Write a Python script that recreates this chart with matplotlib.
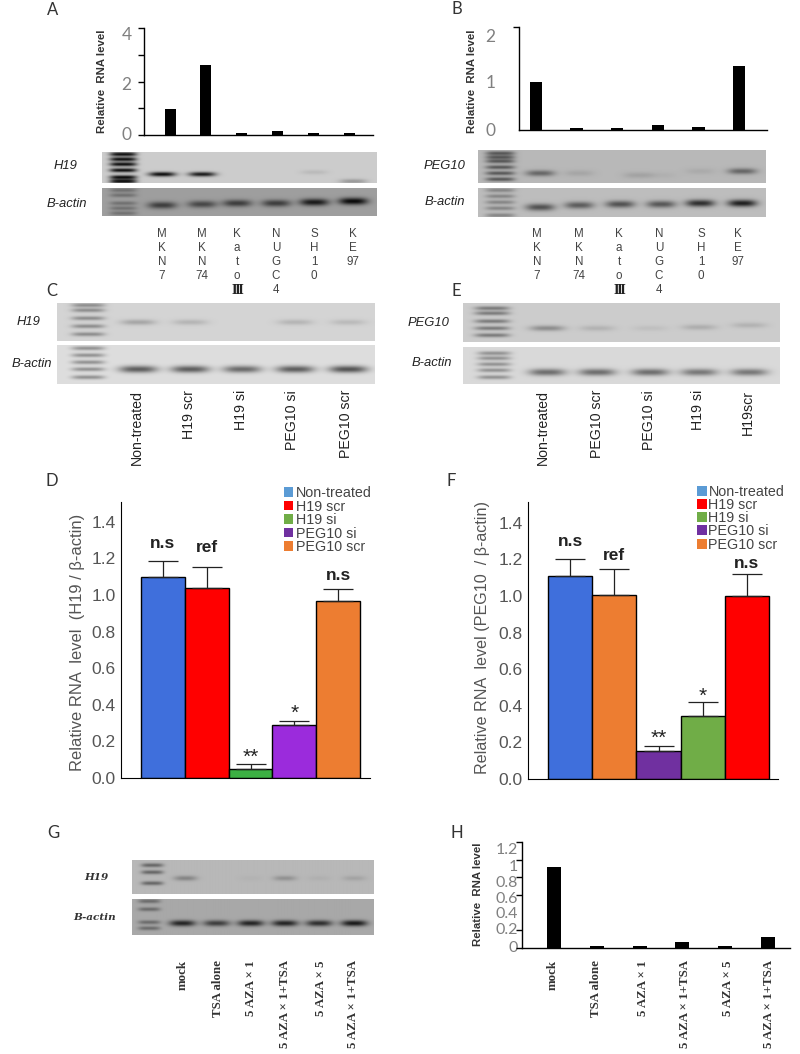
import numpy as np
import matplotlib
matplotlib.use("Agg")
import matplotlib.pyplot as plt
from matplotlib.patches import Patch

W, H = 800, 1054
plt.rcParams['font.family'] = ['Liberation Sans', 'DejaVu Sans']

# bar chart data
cell_lines = [["M", "K", "N", "7"], ["M", "K", "N", "74"], ["K", "a", "t", "o", "Ⅲ"],
              ["N", "U", "G", "C", "4"], ["S", "H", "1", "0"], ["K", "E", "97"]]
h19_levels = [0.97, 2.6, 0.07, 0.14, 0.07, 0.07]
peg10_levels = [1.0, 0.04, 0.04, 0.1, 0.07, 1.33]

d_labels = ["Non-treated", "H19 scr", "H19 si", "PEG10 si", "PEG10 scr"]
d_values = [1.10, 1.04, 0.05, 0.29, 0.965]
d_errors = [0.087, 0.115, 0.027, 0.02, 0.068]
d_marks = ["n.s", "ref", "**", "*", "n.s"]

e_labels = ["Non-treated", "PEG10 scr", "PEG10 si", "H19 si", "H19scr"]
f_values = [1.11, 1.007, 0.153, 0.342, 1.0]
f_errors = [0.094, 0.139, 0.027, 0.078, 0.12]
f_marks = ["n.s", "ref", "**", "*", "n.s"]
legend_labels = ["Non-treated", "H19 scr", "H19 si", "PEG10 si", "PEG10 scr"]

treatments = ["mock", "TSA alone", "5 AZA × 1", "5 AZA × 1+TSA", "5 AZA × 5", "5 AZA × 1+TSA"]
h_values = [0.917, 0.02, 0.02, 0.07, 0.02, 0.125]

# gel band strengths, per lane
gel_a_h19 = [0.75, 0.7, 0.0, 0.0, 0.07, 0.2]
gel_a_actin = [0.38, 0.34, 0.38, 0.38, 0.52, 0.58]
gel_b_peg = [0.32, 0.07, 0.08, 0.03, 0.05, 0.32]
gel_b_actin = [0.42, 0.38, 0.42, 0.4, 0.56, 0.62]
gel_c_h19 = [0.18, 0.12, 0.0, 0.12, 0.1]
gel_c_actin = [0.5, 0.5, 0.45, 0.5, 0.54]
gel_e_peg = [0.25, 0.1, 0.05, 0.12, 0.1]
gel_e_actin = [0.42, 0.42, 0.42, 0.38, 0.38]
gel_g_h19 = [0.2, 0.0, 0.02, 0.15, 0.03, 0.08]
gel_g_actin = [0.52, 0.42, 0.52, 0.52, 0.48, 0.56]

fig = plt.figure(figsize=(W / 100, H / 100), dpi=100)


def px_axes(l, t, r, b):
    return fig.add_axes([l / W, 1 - b / H, (r - l) / W, (b - t) / H])


def px_text(x, y, s, **kw):
    kw.setdefault("ha", "center")
    kw.setdefault("va", "center")
    return fig.text(x / W, 1 - y / H, s, **kw)


def gel(box, bg, lane_x, lane_y, strength, band_w, band_h, ladder_x, ladder_w, rungs, rung_strength):
    l, t, r, b = box
    xx, yy = np.meshgrid(np.arange(l, r, 0.5), np.arange(t, b, 0.5))
    img = np.full(xx.shape, bg, dtype=float)
    for x0, y0, s in zip(lane_x, lane_y, strength):
        img -= s * np.exp(-(np.abs(xx - x0) / (band_w / 2)) ** 3) * np.exp(-((yy - y0) / (band_h / 2)) ** 2)
    for y0 in rungs:
        img -= rung_strength * np.exp(-(np.abs(xx - ladder_x) / (ladder_w / 2)) ** 4) * np.exp(-((yy - y0) / 2.0) ** 2)
    ax = px_axes(l, t, r, b)
    ax.imshow(np.clip(img, 0, 1), cmap="gray", vmin=0, vmax=1, aspect="auto", interpolation="bilinear")
    ax.axis("off")


def small_bars(box, first, step, values, width, ytop, marks, label_pos, labels, ylab_x, ylab_y, pad, size=12.5):
    l, t, r, b = box
    ax = px_axes(l, t, r, b)
    ax.bar(range(len(values)), values, width=width / step, color="black")
    ax.set_xlim(-(first - l) / step, (r - first) / step)
    ax.set_ylim(0, ytop)
    for s in ["top", "right"]:
        ax.spines[s].set_visible(False)
    ax.spines["left"].set_linewidth(1.0)
    ax.spines["bottom"].set_linewidth(1.0)
    ax.set_xticks([])
    ax.set_yticks(label_pos, labels)
    ax.set_yticks(marks, minor=True)
    ax.tick_params(axis="y", which="major", length=0, pad=pad, labelsize=size, labelcolor="#808080")
    ax.tick_params(axis="y", which="minor", length=4, width=1.0)
    for lab in ax.get_yticklabels():
        lab.set_family(["Lato", "DejaVu Sans"])
    px_text(ylab_x, ylab_y, "Relative  RNA level", rotation=90, fontsize=8.2, fontweight="bold", color="#333333")
    ax.patch.set_alpha(0)
    return ax


def big_bars(box, edges, values, errors, colors, marks, mark_y, ylabel, ylab_x, ylab_y, ylab_size):
    l, t, r, b = box
    ax = px_axes(l, t, r, b)
    step = (edges[1] - edges[0]) / 5
    x = np.arange(len(values))
    ax.bar(x, values, width=1, color=colors, edgecolor="black", linewidth=1.0)
    ax.errorbar(x, values, yerr=[np.zeros(len(x)), errors], fmt="none", ecolor="#222222",
                elinewidth=0.9, capsize=10.5, capthick=0.9, zorder=1)
    ax.set_xlim(-0.5 - (edges[0] - l) / step, len(x) - 0.5 + (r - edges[1]) / step)
    ax.set_ylim(0, (b - t) / 183)
    for s in ["top", "right"]:
        ax.spines[s].set_visible(False)
    ax.set_xticks([])
    ax.set_yticks(np.arange(0, 1.5, 0.2), ["%.1f" % v for v in np.arange(0, 1.5, 0.2)])
    ax.tick_params(axis="y", length=0, pad=4, labelsize=12.5, labelcolor="#555555")
    for i, m in enumerate(marks):
        star = m.startswith("*")
        ax.text(i, (b - mark_y[i] - (4 if star else 0)) / 183, m, ha="center", va="center",
                fontsize=15 if star else 12.5, fontweight="normal" if star else "bold", color="#222222")
    px_text(ylab_x, ylab_y, ylabel, rotation=90, fontsize=ylab_size, color="#555555")
    return ax


# panel A
small_bars((144, 28, 373, 135), 170, 35.8, h19_levels, 11, 4.0, [0, 1, 2, 3, 4],
           [0.04, 1.94, 3.81], ["0", "2", "4"], 102, 81, 9)
lanes_a = [162, 202, 237, 276, 314, 353]
gel((102, 152, 377, 183), 0.80, lanes_a, [174, 174, 174, 174, 172, 181], gel_a_h19, 27, 4.5,
    123, 27, [154, 159, 164, 170, 177, 181], 0.75)
gel((102, 188, 377, 216), 0.62, lanes_a, [205, 204, 203, 203, 202, 201], gel_a_actin, 29, 7,
    123, 27, [190, 195, 203, 208, 213], 0.18)

# panel B
small_bars((519, 27, 767, 130), 536, 40.6, peg10_levels, 12.5, 2.14, [0, 1, 2.14],
           [0, 1, 1.97], ["0", "1", "2"], 472, 81, 17)
gel((478, 150, 766, 183), 0.72, [540, 579, 638, 661, 700, 742], [173, 173, 175, 175, 171, 171],
    gel_b_peg, 29, 6, 500, 29, [153, 157, 161, 167, 173, 179], 0.38)
gel((478, 188, 766, 217), 0.74, [540, 579, 620, 661, 700, 742], [207, 205, 204, 204, 203, 203],
    gel_b_actin, 29, 7, 500, 29, [190, 196, 202, 208, 215], 0.22)

# cell line names, one letter per row
for col_x, name_list in [([162, 202, 237, 276, 314, 353], cell_lines),
                         ([537, 579, 619, 659, 701, 738], cell_lines)]:
    for x, name in zip(col_x, name_list):
        for i, ch in enumerate(name):
            if ch == "Ⅲ":
                px_text(x, 234 + 14 * i, ch, fontsize=8.5, fontweight="bold", family="DejaVu Serif", color="#222222")
            else:
                px_text(x, 234 + 14 * i, ch, fontsize=8.4, color="#444444")

# panel C
lanes_c = [138, 190, 242, 295, 348]
gel((57, 303, 375, 341), 0.83, lanes_c, [322] * 5, gel_c_h19, 35, 5.5, 88, 33, [305, 310, 318, 326, 334], 0.28)
gel((57, 345, 375, 384), 0.87, lanes_c, [369] * 5, gel_c_actin, 38, 7, 88, 33, [348, 355, 362, 369, 377], 0.3)
for x, s in zip([137, 189, 241, 292, 346], d_labels):
    px_text(x, 390, s, rotation=90, va="top", fontsize=10.2, color="#222222")

# panel E
lanes_e = [547, 597, 650, 699, 749]
gel((463, 303, 780, 342), 0.80, lanes_e, [328, 328, 328, 327, 325], gel_e_peg, 35, 5.5, 492, 35,
    [308, 313, 321, 328, 335], 0.32)
gel((463, 347, 780, 384), 0.85, lanes_e, [372] * 5, gel_e_actin, 37, 7, 494, 33,
    [353, 358, 364, 370, 377], 0.28)
for x, s in zip([543, 597, 649, 698, 748], e_labels):
    px_text(x, 390, s, rotation=90, va="top", fontsize=10.2, color="#222222")

# panel D
d_colors = ["#3f6fdc", "#ff0000", "#3cb043", "#9b2bdc", "#ed7d31"]
ax_d = big_bars((121, 502, 370, 778), (141, 360), d_values, d_errors, d_colors, d_marks,
                [543, 548, 753, 709, 576], "Relative RNA  level  (H19 / β-actin)", 78, 642, 11.9)
leg_colors = ["#5b9bd5", "#ff0000", "#70ad47", "#7030a0", "#ed7d31"]
handles = [Patch(facecolor=c, label=s) for c, s in zip(leg_colors, legend_labels)]
fig.legend(handles=handles, loc="upper left", bbox_to_anchor=(284 / W, 1 - 486 / H), frameon=False,
           fontsize=10.3, labelcolor="#444444", handlelength=0.62, handleheight=0.62, handletextpad=0.2,
           labelspacing=-0.034, borderpad=0, borderaxespad=0)

# panel F
f_colors = ["#3f6fdc", "#ed7d31", "#7030a0", "#70ad47", "#ff0000"]
ax_f = big_bars((528, 502, 778, 779), (548, 769), f_values, f_errors, f_colors, f_marks,
                [541, 555, 734, 692, 563], "Relative RNA  level (PEG10  / β-actin)", 482, 638, 11.6)
fig.legend(handles=handles, loc="upper left", bbox_to_anchor=(697 / W, 1 - 485 / H), frameon=False,
           fontsize=10.3, labelcolor="#444444", handlelength=0.7, handleheight=0.7, handletextpad=0.1,
           labelspacing=-0.06, borderpad=0, borderaxespad=0)

# panel G
lanes_g = [185, 216, 250, 284, 318, 353]
gel((132, 860, 373, 894), 0.72, lanes_g, [878] * 6, gel_g_h19, 23, 5, 152, 22, [865, 872, 883], 0.32)
gel((132, 899, 373, 935), 0.66, [182, 216, 250, 284, 318, 353], [923] * 6, gel_g_actin, 26, 6, 149, 22,
    [901, 909, 922, 928], 0.24)
for x, s in zip([183, 218, 251, 285, 321, 353], treatments):
    px_text(x, 960, s, rotation=90, va="top", fontsize=9.3, family="Liberation Serif", fontweight="bold", color="#333333")

# panel H
ax_h = small_bars((522, 842, 790, 948), 554, 42.8, h_values, 14, 1.2, [0, 0.2, 0.4, 0.6, 0.8, 1.0, 1.2],
                  [0.02, 0.22, 0.40, 0.57, 0.758, 0.936, 1.125], ["0", "0.2", "0.4", "0.6", "0.8", "1", "1.2"],
                  478, 894, 3, 11.5)
for x, s in zip([553, 596, 643, 685, 728, 769], treatments):
    px_text(x, 960, s, rotation=90, va="top", fontsize=9.3, family="Liberation Serif", fontweight="bold", color="#333333")

# row names next to the gels
gel_names = [(66, 166, "H19"), (67, 204, "B-actin"), (445, 166, "PEG10"), (445, 202, "B-actin"),
             (29, 322, "H19"), (32, 364, "B-actin"), (429, 323, "PEG10"), (432, 363, "B-actin")]
for x, y, s in gel_names:
    px_text(x, y, s, style="italic", fontsize=9.4, color="#222222")
px_text(96, 878, "H19", style="italic", fontweight="bold", family="DejaVu Serif", fontsize=7.5, color="#333333")
px_text(95, 918, "B-actin", style="italic", fontweight="bold", family="DejaVu Serif", fontsize=7.5, color="#333333")

# panel letters
for x, y, s in [(53, 10, "A"), (457, 9, "B"), (52, 291, "C"), (456, 291, "E"),
                (52, 481, "D"), (451, 481, "F"), (53, 833, "G"), (457, 833, "H")]:
    px_text(x, y, s, fontsize=12, family="Lato", color="#333333")

fig.savefig("out.png", dpi=100)
